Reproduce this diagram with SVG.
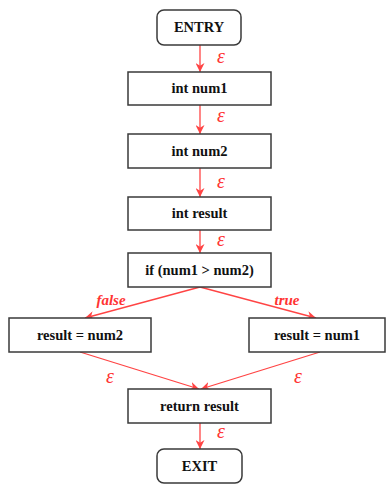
<svg xmlns="http://www.w3.org/2000/svg" width="387" height="488" viewBox="0 0 387 488">
<style>
.box{fill:#fff;stroke:#3a3a3a;stroke-width:1.5}
.lbl{font-family:"Liberation Serif","Times New Roman",serif;font-weight:bold;font-size:14.5px;fill:#111;text-anchor:middle}
.e{stroke:#ff4444;stroke-width:1.3;fill:none;marker-end:url(#ah)}
.eps{font-family:"Liberation Serif","Times New Roman",serif;font-style:italic;font-size:20px;fill:#ff3333;text-anchor:middle}
.br{font-family:"Liberation Serif","Times New Roman",serif;font-style:italic;font-weight:bold;font-size:15px;fill:#ff3333;text-anchor:middle}
</style>
<defs>
<marker id="ah" viewBox="0 0 10 10" refX="10" refY="5" markerWidth="9" markerHeight="9" markerUnits="userSpaceOnUse" orient="auto">
<path d="M0,0 L10,5 L0,10 L3,5 Z" fill="#ff4444"/>
</marker>
</defs>
<g id="connectors">
<line class="e" x1="200" y1="45" x2="200" y2="72"/>
<line class="e" x1="200" y1="105" x2="200" y2="134"/>
<line class="e" x1="200" y1="168" x2="200" y2="197"/>
<line class="e" x1="200" y1="230" x2="200" y2="253"/>
<line class="e" x1="200" y1="287" x2="85" y2="318"/>
<line class="e" x1="200" y1="287" x2="316" y2="318"/>
<line class="e" x1="80" y1="352" x2="199" y2="389"/>
<line class="e" x1="320" y1="352" x2="201" y2="389"/>
<line class="e" x1="200" y1="423" x2="200" y2="449"/>
<text class="eps" x="221" y="63">ε</text>
<text class="eps" x="221" y="122">ε</text>
<text class="eps" x="221" y="188">ε</text>
<text class="eps" x="221" y="246">ε</text>
<text class="eps" x="221" y="438">ε</text>
<text class="eps" x="110" y="383">ε</text>
<text class="eps" x="298" y="383">ε</text>
<text class="br" x="111" y="305">false</text>
<text class="br" x="287" y="305">true</text>
</g>
<g id="entry"><rect class="box" x="157" y="10" width="84" height="35" rx="7"/><text class="lbl" x="199" y="32">ENTRY</text></g>
<g id="num1"><rect class="box" x="128" y="72" width="143" height="33"/><text class="lbl" x="199.5" y="93">int num1</text></g>
<g id="num2"><rect class="box" x="128" y="134" width="143" height="34"/><text class="lbl" x="199.5" y="156">int num2</text></g>
<g id="result"><rect class="box" x="128" y="197" width="143" height="33"/><text class="lbl" x="199.5" y="218">int result</text></g>
<g id="cond"><rect class="box" x="128" y="253" width="143" height="34"/><text class="lbl" x="199.5" y="275">if (num1 &gt; num2)</text></g>
<g id="false_branch"><rect class="box" x="9" y="318" width="142" height="34"/><text class="lbl" x="80" y="340">result = num2</text></g>
<g id="true_branch"><rect class="box" x="249" y="318" width="136" height="34"/><text class="lbl" x="317" y="340">result = num1</text></g>
<g id="ret"><rect class="box" x="128" y="389" width="143" height="34"/><text class="lbl" x="199.5" y="411">return result</text></g>
<g id="exit"><rect class="box" x="157" y="449" width="85" height="34" rx="7"/><text class="lbl" x="199.5" y="471">EXIT</text></g>
</svg>
